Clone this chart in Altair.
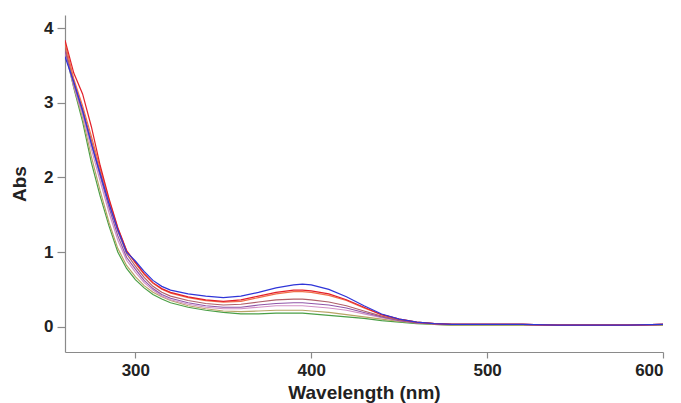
import altair as alt
import pandas as pd

wavelength = [260, 265, 270, 275, 280, 285, 290, 295, 300, 305, 310, 315, 320, 330, 340, 350,
              360, 370, 380, 390, 395, 400, 410, 420, 430, 440, 450, 460, 470, 480, 500, 520,
              540, 560, 580, 600]

s_blue = [3.62, 3.28, 2.90, 2.45, 2.05, 1.65, 1.30, 1.00, 0.88, 0.74, 0.62, 0.54, 0.49, 0.44, 0.41, 0.39,
          0.41, 0.46, 0.52, 0.56, 0.57, 0.56, 0.50, 0.40, 0.28, 0.17, 0.10, 0.06, 0.04, 0.03, 0.03, 0.03,
          0.02, 0.02, 0.02, 0.03]
s_red = [3.84, 3.40, 3.12, 2.68, 2.16, 1.72, 1.33, 1.02, 0.86, 0.71, 0.59, 0.51, 0.46, 0.40, 0.36, 0.34,
         0.36, 0.41, 0.46, 0.49, 0.49, 0.48, 0.44, 0.36, 0.26, 0.16, 0.10, 0.06, 0.04, 0.03, 0.03, 0.03,
         0.02, 0.02, 0.02, 0.03]
s_salmon = [3.80, 3.32, 2.96, 2.55, 2.12, 1.70, 1.32, 1.02, 0.85, 0.70, 0.58, 0.50, 0.45, 0.39, 0.35, 0.33,
            0.34, 0.39, 0.44, 0.47, 0.47, 0.46, 0.42, 0.35, 0.25, 0.16, 0.10, 0.06, 0.04, 0.03, 0.03, 0.03,
            0.02, 0.02, 0.02, 0.03]
s_rose = [3.75, 3.28, 2.92, 2.50, 2.08, 1.66, 1.28, 0.98, 0.81, 0.66, 0.54, 0.46, 0.41, 0.35, 0.31, 0.29,
          0.30, 0.33, 0.36, 0.37, 0.37, 0.36, 0.33, 0.28, 0.21, 0.14, 0.09, 0.05, 0.04, 0.03, 0.03, 0.03,
          0.02, 0.02, 0.02, 0.03]
s_purple = [3.70, 3.25, 2.88, 2.45, 2.02, 1.60, 1.22, 0.93, 0.77, 0.62, 0.51, 0.43, 0.38, 0.32, 0.28, 0.26,
            0.26, 0.29, 0.31, 0.32, 0.32, 0.31, 0.29, 0.25, 0.19, 0.13, 0.08, 0.05, 0.04, 0.03, 0.03, 0.03,
            0.02, 0.02, 0.02, 0.03]
s_pink = [3.68, 3.22, 2.84, 2.38, 1.95, 1.53, 1.16, 0.89, 0.73, 0.59, 0.49, 0.41, 0.36, 0.30, 0.26, 0.24,
          0.24, 0.26, 0.28, 0.28, 0.28, 0.27, 0.25, 0.22, 0.17, 0.12, 0.08, 0.05, 0.04, 0.03, 0.03, 0.03,
          0.02, 0.02, 0.02, 0.03]
s_tan = [3.72, 3.22, 2.80, 2.28, 1.82, 1.40, 1.05, 0.82, 0.67, 0.55, 0.46, 0.40, 0.35, 0.28, 0.24, 0.21,
         0.20, 0.21, 0.22, 0.22, 0.22, 0.21, 0.19, 0.16, 0.13, 0.10, 0.07, 0.05, 0.03, 0.02, 0.02, 0.02,
         0.02, 0.02, 0.02, 0.02]
s_green = [3.70, 3.20, 2.75, 2.20, 1.75, 1.35, 1.00, 0.78, 0.63, 0.52, 0.43, 0.37, 0.32, 0.26, 0.22, 0.19,
           0.17, 0.17, 0.18, 0.18, 0.18, 0.17, 0.15, 0.13, 0.11, 0.08, 0.06, 0.04, 0.03, 0.02, 0.02, 0.02,
           0.02, 0.02, 0.02, 0.02]

series_names = ["green", "tan", "pink", "purple", "rose", "salmon", "red", "blue"]
series_values = [s_green, s_tan, s_pink, s_purple, s_rose, s_salmon, s_red, s_blue]
series_colors = ["#4a9f45", "#b9a466", "#d291c6", "#9056a8", "#b0606a", "#f0704a", "#e3202a", "#2f35d8"]

rows = []
for i, (name, vals) in enumerate(zip(series_names, series_values)):
    for w, v in zip(wavelength, vals):
        rows.append({"series": name, "wl": w, "abs": v, "order": i})
df = pd.DataFrame(rows)

chart = alt.Chart(df).mark_line(strokeWidth=1.2, clip=True).encode(
    x=alt.X("wl:Q", scale=alt.Scale(domain=[260, 600], nice=False, zero=False),
            axis=alt.Axis(title="Wavelength (nm)", values=[300, 400, 500, 600], grid=False,
                          tickSize=6, labelPadding=4, titlePadding=5)),
    y=alt.Y("abs:Q", scale=alt.Scale(domain=[-0.34, 4.178], nice=False, zero=False),
            axis=alt.Axis(title="Abs", values=[0, 1, 2, 3, 4], grid=False,
                          tickSize=8, labelPadding=4, titlePadding=14)),
    color=alt.Color("series:N", scale=alt.Scale(domain=series_names, range=series_colors), legend=None),
    detail="series:N",
).properties(
    width=598, height=337,
    autosize=alt.AutoSizeParams(type="none"),
    padding={"left": 65, "top": 15, "right": 18, "bottom": 51},
).configure(background="white").configure_view(stroke=None).configure_axis(
    domainColor="#8a8a8a", tickColor="#8a8a8a", domainWidth=1.2, tickWidth=1.2,
    labelFont="Liberation Sans", titleFont="Liberation Sans",
    labelFontWeight="bold", titleFontWeight="bold",
    labelFontSize=17, titleFontSize=19, labelColor="#222222", titleColor="#222222",
)

chart.save("out.html", embed_options={"renderer": "svg", "actions": False})
